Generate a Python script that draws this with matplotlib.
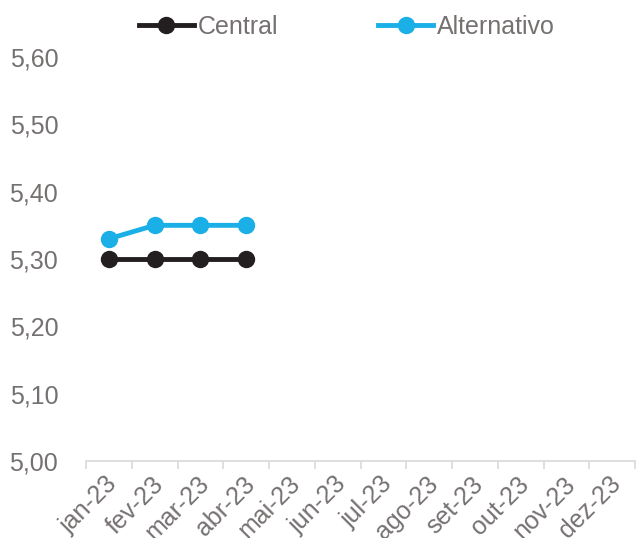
import matplotlib.pyplot as plt
from matplotlib.ticker import FuncFormatter
from matplotlib.transforms import ScaledTranslation

# datos
meses = ["jan-23", "fev-23", "mar-23", "abr-23", "mai-23", "jun-23",
         "jul-23", "ago-23", "set-23", "out-23", "nov-23", "dez-23"]
central = [5.30, 5.30, 5.30, 5.30]
alternativo = [5.33, 5.35, 5.35, 5.35]

plt.rcParams['font.family'] = ['Liberation Sans', 'DejaVu Sans']
cor_texto = "#767171"
cor_eixo = "#d9d9d9"

fig = plt.figure(figsize=(6.41, 5.38), dpi=100)
ax = fig.add_axes([86/641, 77/538, 549/641, 404/538])

x = list(range(len(meses)))
ax.plot(x[:len(central)], central, color="#231f20", lw=3.5, marker="o",
        ms=11.5, label="Central", zorder=3)
ax.plot(x[:len(alternativo)], alternativo, color="#1aafe6", lw=3.5, marker="o",
        ms=11.5, label="Alternativo", zorder=3)

ax.set_xlim(-0.5, len(meses) - 0.5)
ax.set_ylim(5.0, 5.6)
ax.set_yticks([5.0, 5.1, 5.2, 5.3, 5.4, 5.5, 5.6])
ax.yaxis.set_major_formatter(FuncFormatter(lambda v, p: f"{v:.2f}".replace(".", ",")))

# eixo x: marcas entre categorias
ax.set_xticks(x)
ax.set_xticklabels(meses, rotation=45, ha="right", va="center", rotation_mode="anchor")
ax.set_xticks([i - 0.5 for i in range(len(meses) + 1)], minor=True)
ax.tick_params(axis="x", which="major", length=0, pad=14, labelsize=18, labelcolor=cor_texto)
ax.tick_params(axis="x", which="minor", length=6, color=cor_eixo, width=1.2)
ax.tick_params(axis="y", length=0, pad=20, labelsize=18, labelcolor=cor_texto)
desloc = ScaledTranslation(5/100, 0, fig.dpi_scale_trans)
for lbl in ax.get_xticklabels():
    lbl.set_transform(lbl.get_transform() + desloc)

for s in ["top", "right", "left"]:
    ax.spines[s].set_visible(False)
ax.spines["bottom"].set_color(cor_eixo)
ax.spines["bottom"].set_linewidth(1.2)

leg = ax.legend(loc="upper center", bbox_to_anchor=(0.475, 1.16), ncol=2, frameon=False,
                fontsize=18, handlelength=2.2, handletextpad=0.15, columnspacing=4.0)
for t in leg.get_texts():
    t.set_color(cor_texto)

fig.savefig("out.png", dpi=100)
